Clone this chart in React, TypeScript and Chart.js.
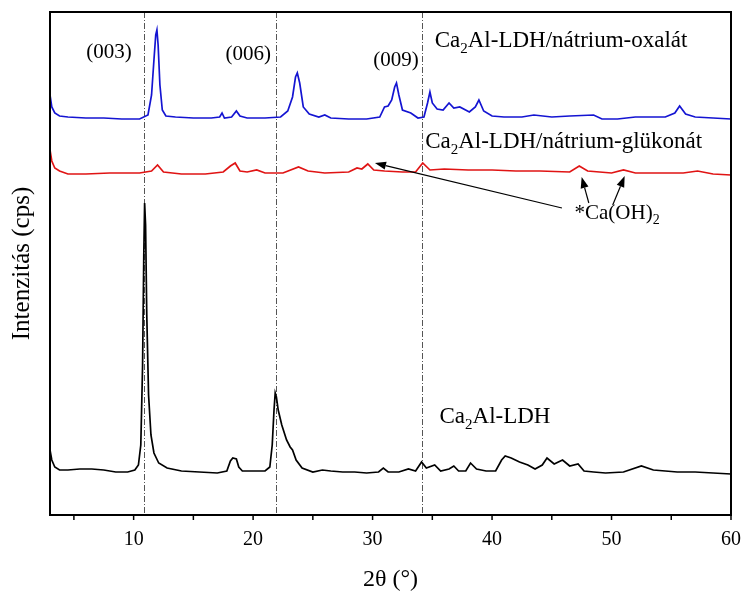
import { useEffect, useRef } from "react";
import { Chart, registerables } from "chart.js";
Chart.register(...registerables);

// ---- Data (y = offset intensity in plot units; 0 = bottom of frame) ----
const ldhX = [3, 3.15, 3.4, 3.8, 4.5, 5.5, 6.5, 7.5, 8.5, 9.5, 10.1, 10.4, 10.6, 10.75, 10.85, 10.92, 11.0, 11.1, 11.25, 11.45, 11.7, 12.1, 12.8, 14, 15.5, 17, 17.8, 18.1, 18.3, 18.6, 18.8, 19.1, 20, 21, 21.4, 21.6, 21.75, 21.85, 21.95, 22.1, 22.4, 22.8, 23.1, 23.3, 23.6, 24.1, 25, 25.8, 26.5, 27.5, 28.5, 29.5, 30.5, 30.9, 31.3, 32.2, 33, 33.6, 34.1, 34.5, 35.2, 35.7, 36.4, 36.8, 37.2, 37.8, 38.2, 38.7, 39.5, 40.3, 40.8, 41.1, 41.6, 42.3, 43, 43.6, 44.2, 44.6, 45.2, 45.9, 46.5, 47.2, 47.7, 48.5, 49.5, 51, 52.5, 53.5, 55.5, 57, 58.5, 60];
const ldhY = [65, 55, 48, 45, 45, 46, 46, 45, 43, 43, 45, 50, 70, 150, 260, 312, 290, 200, 120, 80, 62, 52, 47, 44, 43, 42, 44, 54, 57, 56, 48, 44, 44, 44, 48, 70, 105, 122, 118, 105, 90, 75, 68, 65, 55, 47, 43, 45, 44, 43, 43, 42, 43, 47, 43, 43, 46, 44, 53, 47, 50, 44, 46, 49, 44, 44, 52, 46, 44, 44, 55, 59, 57, 53, 50, 46, 50, 57, 51, 55, 49, 51, 44, 43, 42, 43, 49, 45, 43, 43, 42, 41];

const oxalateX = [3, 3.15, 3.4, 3.8, 4.5, 6, 7.5, 9, 10.5, 11.2, 11.5, 11.7, 11.85, 11.95, 12.05, 12.2, 12.4, 12.7, 13.5, 15, 16.5, 17.2, 17.4, 17.6, 18.2, 18.6, 18.9, 19.5, 21, 22.3, 22.9, 23.3, 23.55, 23.7, 23.9, 24.2, 24.7, 25.5, 26, 26.5, 28, 29.5, 30.6, 31.0, 31.3, 31.6, 31.85, 32.0, 32.2, 32.5, 33.2, 33.8, 34.3, 34.6, 34.8, 35.0, 35.4, 35.9, 36.4, 36.8, 37.3, 38.1, 38.6, 38.9, 39.3, 40, 41, 42.5, 43.5, 45, 46.5, 48.5, 49.2, 50.5, 52, 53, 54.5, 55.3, 55.7, 56.2, 57, 58.5, 60];
const oxalateY = [420, 408, 402, 399, 398, 397, 397, 396, 396, 400, 420, 455, 480, 485, 470, 430, 405, 399, 398, 397, 397, 398, 402, 397, 398, 404, 399, 397, 397, 398, 404, 418, 438, 442, 432, 408, 401, 398, 400, 397, 396, 396, 398, 408, 409, 415, 428, 432, 420, 405, 402, 397, 398, 412, 423, 412, 406, 405, 412, 407, 408, 403, 408, 415, 404, 399, 398, 398, 400, 398, 399, 400, 396, 396, 398, 398, 398, 402, 409, 401, 398, 397, 396];

const gluconateX = [3, 3.15, 3.4, 3.8, 4.5, 6, 8, 10.5, 11.5, 12, 12.5, 14, 16, 17.5, 18.1, 18.5, 18.9, 19.5, 20.3, 21, 22.5, 23.8, 24.6, 26, 28, 28.7, 29.1, 29.6, 30.1, 31, 32.5, 33.6, 34.2, 34.8, 36, 38, 40, 42, 44, 46.5, 47.3, 48, 50, 51, 52, 54, 56, 57.2, 58.5, 60];
const gluconateY = [365, 354, 347, 344, 341, 341, 342, 342, 344, 350, 343, 341, 341, 343, 349, 352, 344, 343, 345, 342, 342, 348, 344, 342, 343, 347, 346, 351, 345, 344, 343, 343, 352, 345, 346, 345, 345, 344, 344, 343, 349, 344, 342, 345, 342, 342, 342, 344, 341, 340];

const seriesNames = ["Ca2Al-LDH", "Ca2Al-LDH/nátrium-oxalát", "Ca2Al-LDH/nátrium-glükonát"];
const seriesColors = ["#000000", "#1414d2", "#e01414"];

const xTicks = [10, 20, 30, 40, 50, 60];
const xMinorTicks = [5, 15, 25, 35, 45, 55];
const refLines = [10.9, 21.9, 34.15];

const peakLabels = ["(003)", "(006)", "(009)"];
const peakLabelX = [7.94, 19.6, 31.95];
const peakLabelY = [463, 461, 455];

// name labels: [prefix, subscript, suffix], left x, baseline y, font size
const nameParts = [
  ["Ca", "2", "Al-LDH/nátrium-oxalát"],
  ["Ca", "2", "Al-LDH/nátrium-glükonát"],
  ["*Ca(OH)", "2", ""],
  ["Ca", "2", "Al-LDH"],
];
const nameX = [35.2, 34.4, 46.9, 35.6];
const nameY = [468, 367, 296, 92];
const nameSize = [23, 23, 21, 23];

// arrows: from (x1,y1) to (x2,y2) in data units
const arrowX1 = [45.85, 48.1, 50.1];
const arrowY1 = [307, 312, 310];
const arrowX2 = [30.2, 47.5, 51.1];
const arrowY2 = [352, 338, 339];

const FONT = "'Liberation Serif', 'Times New Roman', serif";

const toPts = (xs: number[], ys: number[]) => xs.map((x, i) => ({ x, y: ys[i] }));

const decorPlugin = {
  id: "decor",
  beforeDatasetsDraw(chart: any) {
    const { ctx, chartArea, scales } = chart;
    const xs = scales.x;
    ctx.save();
    ctx.strokeStyle = "#555555";
    ctx.lineWidth = 1;
    ctx.setLineDash([6, 2, 1, 2]);
    refLines.forEach((v) => {
      const px = Math.round(xs.getPixelForValue(v)) + 0.5;
      ctx.beginPath();
      ctx.moveTo(px, chartArea.top);
      ctx.lineTo(px, chartArea.bottom);
      ctx.stroke();
    });
    ctx.restore();
  },
  afterDatasetsDraw(chart: any) {
    const { ctx, chartArea, scales } = chart;
    const xs = scales.x;
    const ys = scales.y;
    ctx.save();
    // frame
    ctx.strokeStyle = "#000";
    ctx.lineWidth = 2;
    ctx.setLineDash([]);
    ctx.strokeRect(chartArea.left, chartArea.top, chartArea.right - chartArea.left, chartArea.bottom - chartArea.top);
    // ticks
    ctx.lineWidth = 1.5;
    [...xTicks, ...xMinorTicks].forEach((v) => {
      const px = xs.getPixelForValue(v);
      ctx.beginPath();
      ctx.moveTo(px, chartArea.bottom);
      ctx.lineTo(px, chartArea.bottom + 5);
      ctx.stroke();
    });
    // peak labels
    ctx.fillStyle = "#000";
    ctx.font = `21px ${FONT}`;
    ctx.textAlign = "center";
    ctx.textBaseline = "middle";
    peakLabels.forEach((t, i) => {
      ctx.fillText(t, xs.getPixelForValue(peakLabelX[i]), ys.getPixelForValue(peakLabelY[i]));
    });
    // name labels with subscript
    ctx.textAlign = "left";
    ctx.textBaseline = "alphabetic";
    nameParts.forEach((p, i) => {
      const fs = nameSize[i];
      const ss = Math.round(fs * 0.66);
      let x = xs.getPixelForValue(nameX[i]);
      const y = ys.getPixelForValue(nameY[i]);
      ctx.font = `${fs}px ${FONT}`;
      ctx.fillText(p[0], x, y);
      x += ctx.measureText(p[0]).width;
      ctx.font = `${ss}px ${FONT}`;
      ctx.fillText(p[1], x, y + Math.round(fs * 0.24));
      x += ctx.measureText(p[1]).width;
      ctx.font = `${fs}px ${FONT}`;
      if (p[2]) ctx.fillText(p[2], x, y);
    });
    // arrows
    ctx.lineWidth = 1.2;
    arrowX1.forEach((_, i) => {
      const x1 = xs.getPixelForValue(arrowX1[i]);
      const y1 = ys.getPixelForValue(arrowY1[i]);
      const x2 = xs.getPixelForValue(arrowX2[i]);
      const y2 = ys.getPixelForValue(arrowY2[i]);
      const ang = Math.atan2(y2 - y1, x2 - x1);
      const hl = 11, hw = 4;
      const bx = x2 - hl * Math.cos(ang);
      const by = y2 - hl * Math.sin(ang);
      ctx.beginPath();
      ctx.moveTo(x1, y1);
      ctx.lineTo(bx, by);
      ctx.stroke();
      ctx.beginPath();
      ctx.moveTo(x2, y2);
      ctx.lineTo(bx + hw * Math.sin(ang), by - hw * Math.cos(ang));
      ctx.lineTo(bx - hw * Math.sin(ang), by + hw * Math.cos(ang));
      ctx.closePath();
      ctx.fill();
    });
    ctx.restore();
  },
};

export default function App() {
  const ref = useRef<HTMLCanvasElement | null>(null);
  useEffect(() => {
    document.body.style.margin = "0";
    const canvas = ref.current!;
    const chart = new Chart(canvas, {
      type: "line",
      data: {
        datasets: [
          { label: seriesNames[0], data: toPts(ldhX, ldhY), borderColor: seriesColors[0], borderWidth: 1.7, pointRadius: 0, tension: 0 },
          { label: seriesNames[1], data: toPts(oxalateX, oxalateY), borderColor: seriesColors[1], borderWidth: 1.7, pointRadius: 0, tension: 0 },
          { label: seriesNames[2], data: toPts(gluconateX, gluconateY), borderColor: seriesColors[2], borderWidth: 1.7, pointRadius: 0, tension: 0 },
        ],
      },
      options: {
        animation: false,
        responsive: false,
        layout: { padding: { left: 0, top: 12, right: 12, bottom: 0 } },
        plugins: { legend: { display: false }, tooltip: { enabled: false } },
        scales: {
          x: {
            type: "linear",
            min: 3,
            max: 60,
            border: { display: false },
            grid: { display: false, drawTicks: false },
            afterBuildTicks: (s: any) => {
              s.ticks = xTicks.map((v) => ({ value: v }));
            },
            afterFit: (s: any) => {
              s.height = 83;
              s.paddingRight = 0;
              s.paddingLeft = 0;
            },
            ticks: { color: "#000", padding: 13, maxRotation: 0, font: { family: FONT, size: 20 } },
            title: { display: true, text: "2θ (°)", color: "#000", padding: { top: 0, bottom: 4 }, font: { family: FONT, size: 24 } },
          },
          y: {
            type: "linear",
            min: 0,
            max: 503,
            border: { display: false },
            grid: { display: false, drawTicks: false },
            ticks: { display: false },
            afterFit: (s: any) => {
              s.width = 50;
              s.paddingTop = 0;
              s.paddingBottom = 0;
            },
            title: { display: true, text: "Intenzitás (cps)", color: "#000", padding: { top: 7, bottom: 0 }, font: { family: FONT, size: 25 } },
          },
        },
      },
      plugins: [decorPlugin],
    });
    return () => chart.destroy();
  }, []);
  return (
    <div style={{ width: 743, height: 598 }}>
      <canvas ref={ref} width={743} height={598} style={{ display: "block" }} />
    </div>
  );
}
